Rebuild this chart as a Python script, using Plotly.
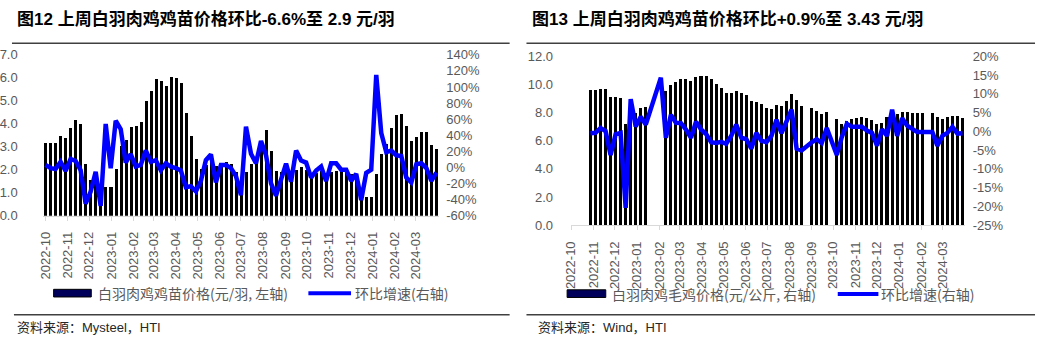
import pandas as pd
import plotly.graph_objects as go

W, H = 1038, 349
FONT = "Liberation Sans, Noto Sans CJK SC, sans-serif"
CJK = "Noto Sans CJK SC, sans-serif"
GRAY = "#595959"
AXIS_GRAY = "#d9d9d9"

# ---- 图12: weekly chick price (元/羽) and week-on-week change (%) ----
chick_start = "2022-10-01"
chick_price = [
    3.15, 3.15, 3.18, 3.46, 3.39, 3.81, 4.15, 3.99, 2.24, 1.57,
    1.50, 0.80, 1.26, 1.26, 2.03, 3.04, 3.28, 3.88, 3.90, 4.07,
    4.99, 5.44, 5.96, 5.85, 5.64, 6.03, 6.00, 5.78, 4.47, 3.47,
    2.49, 2.03, 2.20, 2.50, 2.17, 2.25, 2.35, 2.25, 1.89, 1.30,
    1.89, 2.24, 2.40, 3.15, 3.74, 2.83, 1.93, 1.89, 2.07, 1.93,
    2.00, 2.14, 2.00, 1.85, 1.85, 1.95, 1.85, 1.90, 1.95, 1.95,
    1.85, 1.80, 1.72, 0.82, 0.82, 0.82, 1.83, 2.67, 3.14, 3.84,
    4.40, 4.45, 3.90, 3.25, 3.43, 3.66, 3.66, 3.10, 2.90,
]
chick_wow = [
    3.0, -1.0, -2.0, 7.0, -4.5, 10.5, 8.0, -3.5, -45.0, -30.0,
    -5.5, -48.0, 54.0, -1.0, 58.0, 47.5, 6.0, 16.5, 1.0, 3.0,
    21.0, 7.0, 9.0, -3.5, 5.0, 1.0, -0.8, -3.7, -24.6, -23.4,
    -29.9, -16.8, 9.0, 16.2, -18.7, 3.1, 3.1, -0.8, -10.8, -34.6,
    50.7, 17.0, 5.1, 32.9, 15.0, -20.0, -35.0, -15.8, 4.7, -17.8,
    21.0, 8.5, 6.0, -12.7, -4.0, 1.1, -16.8, 5.1, 5.1, -2.9,
    -2.9, -16.8, -8.0, -40.6, -6.8, -2.9, 115.0, 42.7, 19.0, 21.0,
    15.0, 14.2, -12.7, -18.7, 3.9, 5.1, -0.8, -16.8, -6.6,
]

# ---- 图13: weekly broiler price (元/公斤) and week-on-week change (%) ----
broiler_start = "2022-10-28"
broiler_price = [
    9.58, 9.58, 9.65, 9.65, 9.06, 9.06, 9.02, 7.20, 7.82, 7.93,
    8.29, 8.40, None, None, None, 9.54, 9.92, 10.15, 10.37, 10.37,
    10.22, 10.49, 10.55, 10.55, 10.35, 9.98, 9.72, 9.40, 9.36, 9.54,
    9.40, 9.20, 8.80, 8.75, 8.61, 8.34, 8.22, 8.52, 8.45, 8.79,
    9.31, 8.86, 8.45, None, 8.34, 8.07, 7.88, 8.00, None, 7.50,
    7.20, 7.39, 7.55, 7.59, 7.66, 7.60, 7.44, 7.17, 7.25, 7.66,
    7.77, 7.88, 8.00, 8.00, 7.93, 7.93, 7.93, None, 7.93, 7.66,
    7.53, 7.66, 7.71, 7.71, 7.62,
]
broiler_wow = [
    -0.5, -0.4, 0.9, 0.1, -6.3, -0.8, -0.4, -20.4, 8.6, 1.3,
    3.9, 1.8, None, None, 14.3, -1.7, 4.4, 2.3, 2.2, 0.5,
    -1.7, 2.6, 0.5, -0.7, -2.9, -3.1, -2.8, -3.3, -1.2, 1.8,
    -1.7, -2.1, -4.6, -0.4, -2.5, -2.9, -1.2, 3.1, -0.5, 2.5,
    5.8, -4.6, -5.1, None, -2.9, -2.1, -3.1, 0.9, None, -6.3,
    -1.5, 2.0, 1.2, 1.2, 1.2, 0.2, -0.4, -3.8, 0.5, -1.2,
    5.8, -1.2, 3.5, 1.5, 0.5, -0.2, -0.2, None, -0.2, -3.8,
    -1.2, -0.4, 1.2, -0.6, -0.5,
]

month_ticks = pd.date_range("2022-10-01", "2024-03-01", freq="MS")
month_labels = [d.strftime("%Y-%m") for d in month_ticks]

left_price_ticks = list(range(0, 8))
left_pct_ticks = list(range(-60, 141, 20))
right_price_ticks = list(range(0, 13, 2))
right_pct_ticks = list(range(-25, 21, 5))

chick_dates = pd.date_range(chick_start, periods=len(chick_price), freq="7D")
broiler_dates = pd.date_range(broiler_start, periods=len(broiler_price), freq="7D")

DAY_MS = 86400000
BAR_WIDTH = 4.2 * DAY_MS


def px(x):
    return x / W


def py(y):
    return 1 - y / H


fig = go.Figure()

fig.add_trace(go.Bar(x=chick_dates, y=chick_price, width=BAR_WIDTH,
                     marker=dict(color="#000000", line=dict(width=0)),
                     xaxis="x", yaxis="y", showlegend=False))
fig.add_trace(go.Scatter(x=chick_dates, y=chick_wow, mode="lines",
                         line=dict(color="#0000FF", width=4.5),
                         xaxis="x", yaxis="y2", connectgaps=True, showlegend=False))
fig.add_trace(go.Bar(x=broiler_dates, y=broiler_price, width=BAR_WIDTH,
                     marker=dict(color="#000000", line=dict(width=0)),
                     xaxis="x2", yaxis="y3", showlegend=False))
fig.add_trace(go.Scatter(x=broiler_dates, y=broiler_wow, mode="lines",
                         line=dict(color="#0000FF", width=4.5),
                         xaxis="x2", yaxis="y4", connectgaps=True, showlegend=False))

tick_font = dict(family=FONT, size=13, color=GRAY)

xcommon = dict(type="date", tickmode="array", tickvals=month_ticks, ticktext=month_labels,
               tickangle=-90, tickfont=tick_font, showgrid=False, zeroline=False,
               showline=True, linecolor=AXIS_GRAY, linewidth=1,
               ticks="outside", ticklen=4, tickcolor=AXIS_GRAY, ticklabelstandoff=6)
ycommon = dict(showgrid=False, zeroline=False, showline=False, ticks="",
               tickfont=tick_font, tickmode="array")

left_dom = [py(218), py(50)]
right_dom = [py(228), py(51.5)]

fig.update_layout(
    width=W, height=H,
    margin=dict(l=0, r=0, t=0, b=0),
    paper_bgcolor="white", plot_bgcolor="rgba(0,0,0,0)",
    bargap=0,
    xaxis=dict(xcommon, domain=[px(34), px(434)], anchor="y",
               range=["2022-09-27", "2024-04-03"]),
    yaxis=dict(ycommon, domain=left_dom, anchor="x", range=[0, 7],
               tickvals=left_price_ticks,
               ticktext=[f"{v:.1f}" for v in left_price_ticks], ticklabelstandoff=24),
    yaxis2=dict(ycommon, domain=left_dom, anchor="x", overlaying="y", side="right",
                range=[-60, 140], tickvals=left_pct_ticks,
                ticktext=[f"{v}%" for v in left_pct_ticks], ticklabelstandoff=6),
    xaxis2=dict(xcommon, domain=[px(567), px(964)], anchor="y3",
                range=["2022-10-01", "2024-04-01"]),
    yaxis3=dict(ycommon, domain=right_dom, anchor="x2", range=[0, 12],
                tickvals=right_price_ticks,
                ticktext=[f"{v:.1f}" for v in right_price_ticks], ticklabelstandoff=17),
    yaxis4=dict(ycommon, domain=right_dom, anchor="x2", overlaying="y3", side="right",
                range=[-25, 20], tickvals=right_pct_ticks,
                ticktext=[f"{v}%" for v in right_pct_ticks], ticklabelstandoff=7),
)

shapes = []
annotations = []


def rule(x0, x1, y, width=1.5, color="#404040"):
    shapes.append(dict(type="line", xref="paper", yref="paper",
                       x0=px(x0), x1=px(x1), y0=py(y), y1=py(y),
                       line=dict(color=color, width=width)))


def text(x, y, s, size=13, color="#262626", bold=False, family=FONT):
    if bold:
        s = "<b>" + s + "</b>"
    annotations.append(dict(xref="paper", yref="paper", x=px(x), y=py(y), text=s,
                            showarrow=False, xanchor="left", yanchor="middle",
                            font=dict(family=family, size=size, color=color)))


# titles and rules
text(6, 13, "图12 上周白羽肉鸡鸡苗价格环比-6.6%至 2.9 元/羽", size=17, color="#000000", bold=True)
text(526, 13, "图13 上周白羽肉鸡鸡苗价格环比+0.9%至 3.43 元/羽", size=17, color="#000000", bold=True)
rule(3, 505, 38)
rule(522, 1035, 38)
rule(5, 505, 321.5)
rule(522, 1035, 321.5)

# legends
shapes.append(dict(type="rect", xref="paper", yref="paper",
                   x0=px(45), x1=px(83), y0=py(303), y1=py(295),
                   fillcolor="#00005a", line=dict(color="#000000", width=1)))
text(88, 299, "白羽肉鸡鸡苗价格(元/羽, 左轴)", size=14, color=GRAY, family=CJK)
shapes.append(dict(type="line", xref="paper", yref="paper",
                   x0=px(302), x1=px(345), y0=py(299), y1=py(299),
                   line=dict(color="#0000FF", width=4)))
text(347, 299, "环比增速(右轴)", size=14, color=GRAY, family=CJK)

shapes.append(dict(type="rect", xref="paper", yref="paper",
                   x0=px(563), x1=px(602), y0=py(303.5), y1=py(295.5),
                   fillcolor="#00005a", line=dict(color="#000000", width=1)))
text(606, 299.5, "白羽肉鸡毛鸡价格(元/公斤, 右轴)", size=14, color=GRAY, family=CJK)
shapes.append(dict(type="line", xref="paper", yref="paper",
                   x0=px(836), x1=px(877), y0=py(300), y1=py(300),
                   line=dict(color="#0000FF", width=4)))
text(878, 299.5, "环比增速(右轴)", size=14, color=GRAY, family=CJK)

# sources
text(6, 335, "资料来源：Mysteel，HTI", size=13, color="#262626")
text(532, 335, "资料来源：Wind，HTI", size=13, color="#262626")

fig.update_layout(shapes=shapes, annotations=annotations)

fig.write_html("out.html")
